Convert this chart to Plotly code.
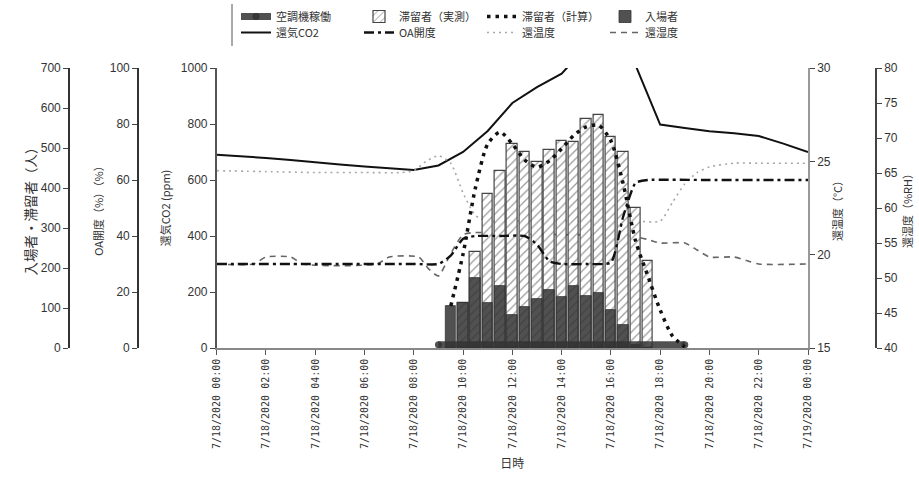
import pandas as pd
import plotly.graph_objects as go

BASE = pd.Timestamp("2020-07-18 00:00")


def to_time(hours):
    return [BASE + pd.Timedelta(hours=h) for h in hours]


# ---------------- data ----------------
co2_hours = list(range(0, 25))
co2_ppm = [690, 685, 679, 671, 662, 655, 648, 643, 636, 652, 700, 775, 875, 932,
           980, 1075, 1085, 1010, 798, 786, 774, 767, 757, 730, 700]

bar_hours = [9.5, 10.0, 10.5, 11.0, 11.5, 12.0, 12.5, 13.0, 13.5, 14.0, 14.5,
             15.0, 15.5, 16.0, 16.5, 17.0, 17.5]
entrants = [105, 113, 174, 112, 156, 82, 102, 122, 145, 128, 155, 130, 137, 95, 57, 7, 0]
stayers_measured = [0, 113, 239, 384, 443, 509, 489, 464, 495, 518, 516, 572, 582,
                    527, 489, 349, 217]

calc_hours = [9.5, 10.0, 10.5, 11.0, 11.5, 12.0, 12.5, 13.0, 13.5, 14.0, 14.5, 15.0,
              15.5, 16.0, 16.5, 17.0, 17.5, 18.0, 18.5, 19.0]
stayers_calc = [105, 235, 400, 510, 540, 510, 470, 452, 468, 498, 532, 553, 557, 518,
                410, 268, 180, 95, 30, 3]

oa_hours = [0, 4, 8, 9, 9.5, 10, 10.5, 11.5, 12.5, 13, 13.5, 14, 15, 16, 16.5, 17,
            17.5, 20, 24]
oa_pct = [30, 30, 30, 30, 33, 39, 40, 40, 40, 37, 31, 30, 30, 30.5, 47, 59, 60, 60, 60]

temp_hours = [0, 2, 4, 6, 7.5, 8, 8.5, 9, 9.5, 10, 10.5, 11, 12, 14, 16, 17, 18,
              18.5, 19, 19.5, 20, 21, 22, 24]
temp_c = [24.5, 24.45, 24.4, 24.4, 24.4, 24.5, 25.0, 25.3, 24.9, 23.3, 22.1, 21.8,
          21.8, 21.8, 21.8, 21.8, 21.8, 22.8, 23.8, 24.4, 24.7, 24.9, 24.9, 24.9]

rh_hours = [0, 1.5, 2, 3, 3.5, 6.5, 7, 8.2, 8.6, 9.0, 9.5, 10.0, 10.5, 12, 14, 16,
            17, 17.5, 18, 19, 19.5, 20, 21, 21.5, 22, 24]
rh_pct = [52, 52, 53, 53, 52, 52, 53, 53, 51.3, 50.3, 53.5, 56.2, 56.5, 56.3, 56.2,
          56.1, 55.9, 55.5, 55, 55, 54, 53, 53, 52.5, 52, 52]

ac_hours = [9, 19]          # air conditioner running period
ac_level = [8, 8]           # drawn as a strip at the bottom of the people axis

x_ticks_dtick_ms = 2 * 3600 * 1000

# ---------------- figure ----------------
W, H = 919, 498
NUM = "Liberation Sans, Noto Sans CJK JP"
JP = "Noto Sans CJK JP, Liberation Sans"
TXT = "#333333"

fig = go.Figure()

# CO2
fig.add_trace(go.Scatter(
    x=to_time(co2_hours), y=co2_ppm, yaxis="y", mode="lines",
    name="還気CO2", line=dict(color="#111111", width=2),
    legend="legend2", legendrank=5,
))

# temperature (dotted light gray)
fig.add_trace(go.Scatter(
    x=to_time(temp_hours), y=temp_c, yaxis="y2", mode="lines",
    name="還温度", line=dict(color="#a8a8a8", width=1.6, dash="2px,4px",
                             shape="spline", smoothing=0.6),
    legend="legend2", legendrank=7,
))

# humidity (dashed)
fig.add_trace(go.Scatter(
    x=to_time(rh_hours), y=rh_pct, yaxis="y3", mode="lines",
    name="還湿度", line=dict(color="#666666", width=1.6, dash="6px,5px",
                             shape="spline", smoothing=0.6),
    legend="legend2", legendrank=8,
))

# measured stayers (hatched bars)
fig.add_trace(go.Bar(
    x=to_time(bar_hours), y=stayers_measured, yaxis="y4",
    name="滞留者（実測）", width=1530000,
    marker=dict(color="white", line=dict(color="#444444", width=1.2),
                pattern=dict(shape="/", fgcolor="#333333", bgcolor="white",
                             size=6, solidity=0.2)),
    legend="legend", legendrank=2,
))

# entrants (dark bars)
fig.add_trace(go.Bar(
    x=to_time(bar_hours), y=entrants, yaxis="y4",
    name="入場者", width=1530000,
    marker=dict(color="rgba(50,50,50,0.85)", line=dict(color="#333333", width=0.8)),
    legend="legend", legendrank=4,
))

# AC operation strip (over the bar bottoms)
fig.add_trace(go.Scatter(
    x=to_time(ac_hours), y=ac_level, yaxis="y4", mode="lines+markers",
    name="空調機稼働", line=dict(color="rgba(50,50,50,0.85)", width=7),
    marker=dict(size=7, color="rgba(50,50,50,0.85)"), legend="legend", legendrank=1,
))

# calculated stayers (big dotted line)
fig.add_trace(go.Scatter(
    x=to_time(calc_hours), y=stayers_calc, yaxis="y4", mode="lines",
    name="滞留者（計算）", line=dict(color="#111111", width=3.5, dash="3.5px,5px",
                                 shape="spline", smoothing=0.7),
    legend="legend", legendrank=3,
))

# OA damper opening (dash-dot)
fig.add_trace(go.Scatter(
    x=to_time(oa_hours), y=oa_pct, yaxis="y5", mode="lines",
    name="OA開度", line=dict(color="#111111", width=2.4, dash="10px,4px,3px,4px",
                             shape="spline", smoothing=0.5),
    legend="legend2", legendrank=6,
))

X0, X1 = 216.7 / W, 808 / W
Y0, Y1 = 1 - 348 / H, 1 - 68 / H


def yax(**kw):
    base = dict(showgrid=False, zeroline=False, showline=True, linewidth=1.6,
                linecolor="#444444", ticks="outside", ticklen=5, tickwidth=1.3,
                tickcolor="#444444", tickfont=dict(family=NUM, size=12, color=TXT),
                automargin=False, domain=[Y0, Y1], fixedrange=True)
    base.update(kw)
    return base


LEG = dict(orientation="h", x=236 / W, xanchor="left", yanchor="top",
           entrywidth=78, entrywidthmode="pixels", itemwidth=30,
           font=dict(family=JP, size=11, color=TXT), bgcolor="rgba(0,0,0,0)",
           tracegroupgap=0, traceorder="normal")

fig.update_layout(
    width=W, height=H, margin=dict(l=0, r=0, t=0, b=0),
    paper_bgcolor="white", plot_bgcolor="white",
    barmode="overlay", bargap=0,
    xaxis=dict(
        type="date", domain=[X0, X1],
        range=[BASE, BASE + pd.Timedelta(hours=24)],
        tick0=BASE, dtick=x_ticks_dtick_ms, tickformat="%-m/%d/%Y %H:%M",
        tickangle=-90, ticks="outside", ticklen=5, tickcolor="#555555",
        showline=True, linecolor="#888888", linewidth=1.5, showgrid=False,
        zeroline=False, automargin=False,
        tickfont=dict(family="DejaVu Sans Mono, Noto Sans CJK JP", size=10, color=TXT),
        title=dict(text="日時", font=dict(family=JP, size=12, color=TXT), standoff=12),
    ),
    yaxis=yax(range=[0, 1000], dtick=200, side="left", anchor="x",
              linecolor="#555555",
              title=dict(text="還気CO2 (ppm)", standoff=8,
                         font=dict(family=JP, size=11, color=TXT))),
    yaxis2=yax(range=[15, 30], dtick=5, side="right", anchor="x", overlaying="y",
               linecolor="#999999",
               title=dict(text="還温度（°C）", standoff=4,
                          font=dict(family=JP, size=11, color=TXT))),
    yaxis3=yax(range=[40, 80], dtick=5, side="right", anchor="free",
               position=876 / W, overlaying="y",
               title=dict(text="還湿度（%RH）", standoff=6,
                          font=dict(family=JP, size=11, color=TXT))),
    yaxis4=yax(range=[0, 700], dtick=100, side="left", anchor="free",
               position=69 / W, overlaying="y", linecolor="#333333",
               title=dict(text="入場者・滞留者（人）", standoff=0,
                          font=dict(family=JP, size=13.5, color=TXT))),
    yaxis5=yax(range=[0, 100], dtick=20, side="left", anchor="free",
               position=138 / W, overlaying="y", linecolor="#333333",
               title=dict(text="OA開度（%）（%）", standoff=3,
                          font=dict(family=JP, size=11, color=TXT))),
    legend=dict(LEG, y=1 - 2 / H),
    legend2=dict(LEG, y=1 - 18 / H),
    shapes=[dict(type="line", xref="paper", yref="paper", x0=232 / W, x1=232 / W,
                 y0=1 - 4 / H, y1=1 - 46 / H, line=dict(color="#555555", width=1))],
)

fig.write_html("out.html")
